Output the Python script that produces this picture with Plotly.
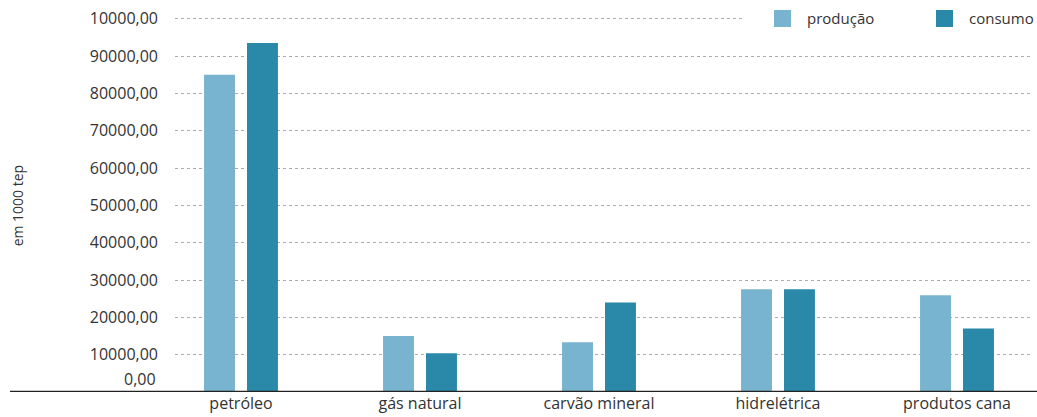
import plotly.graph_objects as go

# Fontes de energia (em 1000 tep)
categorias = ["petróleo", "gás natural", "carvão mineral", "hidrelétrica", "produtos cana"]
producao = [85000, 15000, 13300, 27500, 25900]
consumo = [93500, 10400, 24000, 27500, 17000]
series = ["produção", "consumo"]

y_ticks = [10000, 20000, 30000, 40000, 50000, 60000, 70000, 80000, 90000, 100000]
y_tick_text = ["10000,00", "20000,00", "30000,00", "40000,00", "50000,00",
               "60000,00", "70000,00", "80000,00", "90000,00", "10000,00"]

COR_PRODUCAO = "#78B4CF"
COR_CONSUMO = "#2A88A8"
FONTE = "Open Sans, Noto Sans, sans-serif"
TEXTO = "#333333"

W, H = 1037, 417
ML, MR, MT, MB = 175, 5, 15, 25
PW = W - ML - MR


def px_x(p):
    """Converte posição horizontal em pixels para coordenadas de papel."""
    return (p - ML) / PW


def px_y(p):
    """Converte posição vertical em pixels para coordenadas de papel."""
    return (H - MB - p) / (H - MT - MB)


fig = go.Figure()
fig.add_trace(go.Bar(name=series[0], x=categorias, y=producao, showlegend=False,
                     marker=dict(color=COR_PRODUCAO, line=dict(width=0))))
fig.add_trace(go.Bar(name=series[1], x=categorias, y=consumo, showlegend=False,
                     marker=dict(color=COR_CONSUMO, line=dict(width=0))))

fig.update_layout(
    width=W, height=H,
    margin=dict(l=ML, r=MR, t=MT, b=MB, autoexpand=False),
    paper_bgcolor="white", plot_bgcolor="white",
    barmode="group", bargap=0.52, bargroupgap=0.28,
    font=dict(family=FONTE, size=16, color=TEXTO),
    showlegend=False,
)

fig.update_xaxes(range=[-0.3687, 4.419], showgrid=False, showline=False,
                 ticks="", tickfont=dict(size=16, color=TEXTO))
fig.update_yaxes(range=[0, 101000], tickvals=y_ticks, ticktext=y_tick_text,
                 showgrid=True, gridcolor="#AAAAAA", griddash="dot", gridwidth=1,
                 zeroline=False, showline=False, ticks="",
                 ticklabelstandoff=16, tickfont=dict(size=16, color=TEXTO))

# eixo base espesso que se estende além da área do gráfico
fig.add_shape(type="line", xref="paper", yref="y", x0=px_x(10), x1=px_x(1037),
              y0=0, y1=0, line=dict(color="#222222", width=2.5), layer="above")

# rótulo do zero, deslocado acima da linha base
fig.add_annotation(text="0,00", xref="paper", yref="y", x=px_x(158), y=3400,
                   xanchor="right", yanchor="middle", showarrow=False,
                   font=dict(size=16, color=TEXTO))

# título do eixo vertical
fig.add_annotation(text="em 1000 tep", xref="paper", yref="y", x=px_x(17), y=50000,
                   textangle=-90, xanchor="center", yanchor="middle", showarrow=False,
                   font=dict(size=14, color=TEXTO))

# legenda: fundo branco, quadrados e rótulos
fig.add_shape(type="rect", xref="paper", yref="paper", x0=px_x(745), x1=px_x(1037),
              y0=px_y(32), y1=px_y(5), fillcolor="white", line=dict(width=0), layer="above")
for nome, cor, x0 in [(series[0], COR_PRODUCAO, 774), (series[1], COR_CONSUMO, 936)]:
    fig.add_shape(type="rect", xref="paper", yref="paper", x0=px_x(x0), x1=px_x(x0 + 17),
                  y0=px_y(27), y1=px_y(10), fillcolor=cor, line=dict(width=0), layer="above")
    fig.add_annotation(text=nome, xref="paper", yref="paper", x=px_x(x0 + 31), y=px_y(18),
                       xanchor="left", yanchor="middle", showarrow=False,
                       font=dict(size=15, color=TEXTO))

fig.write_html("out.html")
